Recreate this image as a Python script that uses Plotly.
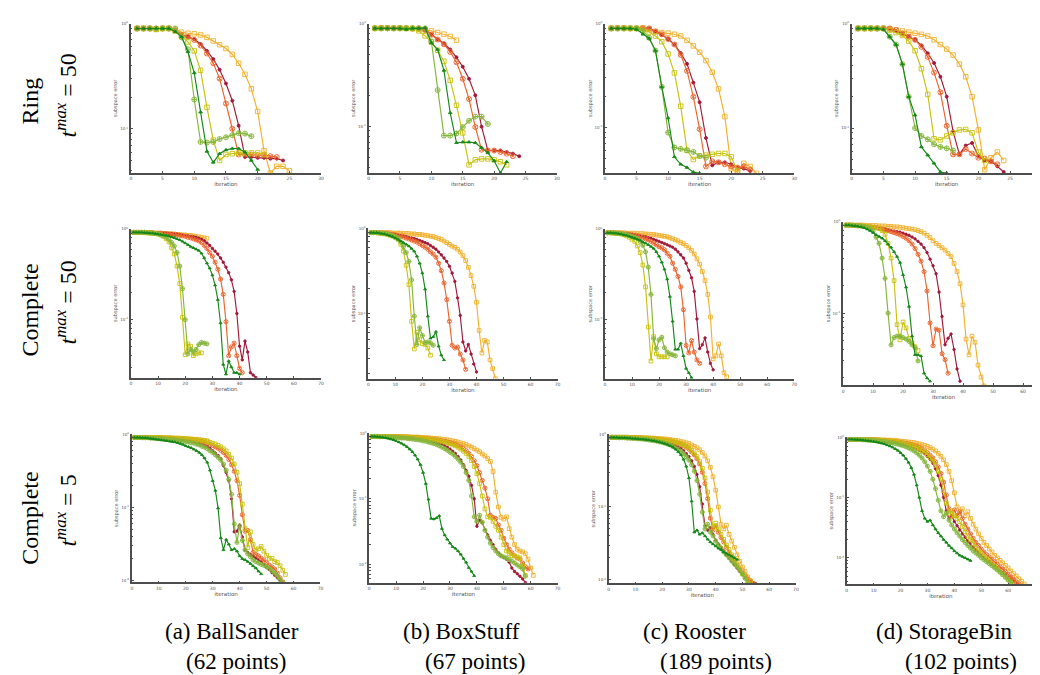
import plotly.graph_objects as go

# ------------------------------------------------------------------
# DATA  (subspace error per iteration, iterations start at 1)
# series: dr = dark red, or = orange-red, oy = orange-yellow,
#         yo = yellow-olive, lg = light green, dg = dark green
# ------------------------------------------------------------------
# Row 1 : Ring, t_max = 50
ring_a_oy = [0.90,0.90,0.90,0.89,0.90,0.90,0.88,0.83,0.81,0.80,0.78,0.74,0.685,0.63,0.58,0.51,0.42,0.33,0.24,0.146,0.062,0.038,0.044,0.044,0.040]
ring_a_dr = [0.90,0.90,0.90,0.90,0.90,0.90,0.87,0.78,0.75,0.71,0.64,0.55,0.46,0.365,0.27,0.185,0.107,0.054,0.054,0.053,0.053,0.052,0.052,0.050]
ring_a_or = [0.90,0.90,0.90,0.90,0.90,0.90,0.86,0.78,0.75,0.70,0.62,0.52,0.42,0.30,0.174,0.10,0.057,0.057,0.057,0.056,0.056,0.055,0.054]
ring_a_yo = [0.90,0.90,0.90,0.88,0.90,0.90,0.85,0.76,0.67,0.55,0.36,0.16,0.078,0.050,0.057,0.058,0.059,0.059,0.059,0.059,0.057]
ring_a_lg = [0.90,0.90,0.90,0.90,0.90,0.90,0.90,0.74,0.57,0.19,0.075,0.074,0.075,0.080,0.083,0.087,0.091,0.090,0.085]
ring_a_dg = [0.90,0.90,0.90,0.90,0.90,0.90,0.84,0.75,0.54,0.34,0.144,0.061,0.048,0.058,0.063,0.065,0.065,0.060,0.050,0.041]

ring_b_oy = [0.90,0.91,0.91,0.90,0.91,0.90,0.89,0.88,0.87,0.85,0.82,0.79,0.75,0.69]
ring_b_dr = [0.90,0.90,0.90,0.90,0.90,0.90,0.90,0.90,0.87,0.78,0.70,0.64,0.56,0.47,0.38,0.29,0.20,0.099,0.058,0.058,0.058,0.056,0.054,0.051]
ring_b_or = [0.90,0.90,0.90,0.90,0.90,0.90,0.90,0.90,0.87,0.78,0.70,0.63,0.53,0.42,0.29,0.184,0.098,0.059,0.058,0.058,0.056,0.054,0.051]
ring_b_yo = [0.90,0.90,0.90,0.90,0.90,0.90,0.90,0.85,0.76,0.66,0.55,0.43,0.28,0.16,0.086,0.042,0.047,0.048,0.048,0.047,0.045,0.042]
ring_b_lg = [0.90,0.90,0.90,0.90,0.90,0.90,0.90,0.90,0.90,0.67,0.225,0.081,0.081,0.085,0.098,0.113,0.124,0.124,0.105]
ring_b_dg = [0.90,0.90,0.90,0.90,0.90,0.88,0.90,0.90,0.91,0.65,0.56,0.35,0.135,0.069,0.070,0.070,0.069,0.062,0.055,0.046,0.035,0.045]

ring_c_oy = [0.90,0.91,0.91,0.90,0.90,0.91,0.88,0.84,0.82,0.81,0.79,0.76,0.69,0.61,0.53,0.44,0.34,0.235,0.127,0.040,0.037,0.045,0.042,0.036]
ring_c_dr = [0.90,0.90,0.90,0.90,0.90,0.90,0.90,0.84,0.78,0.71,0.63,0.52,0.41,0.27,0.175,0.079,0.043,0.046,0.046,0.044,0.041,0.040,0.038]
ring_c_or = [0.90,0.90,0.90,0.90,0.90,0.90,0.90,0.84,0.79,0.71,0.63,0.50,0.35,0.197,0.096,0.042,0.047,0.046,0.044,0.042,0.041,0.042,0.039]
ring_c_yo = [0.90,0.90,0.90,0.90,0.90,0.87,0.83,0.76,0.67,0.51,0.335,0.16,0.060,0.049,0.053,0.054,0.055,0.056,0.056,0.052,0.038]
ring_c_lg = [0.90,0.90,0.90,0.90,0.90,0.85,0.73,0.55,0.246,0.089,0.064,0.062,0.060,0.058,0.053,0.051]
ring_c_dg = [0.90,0.90,0.90,0.90,0.88,0.79,0.72,0.55,0.246,0.123,0.052,0.044,0.041,0.037,0.036]

ring_d_oy = [0.90,0.90,0.90,0.90,0.90,0.89,0.87,0.85,0.83,0.81,0.79,0.76,0.70,0.63,0.57,0.50,0.41,0.31,0.20,0.096,0.040,0.052,0.059,0.049]
ring_d_dr = [0.90,0.90,0.90,0.90,0.90,0.88,0.85,0.80,0.75,0.70,0.62,0.52,0.42,0.31,0.20,0.093,0.056,0.068,0.072,0.054,0.049,0.048,0.043,0.038]
ring_d_or = [0.90,0.90,0.90,0.90,0.90,0.90,0.87,0.80,0.75,0.70,0.60,0.48,0.34,0.22,0.105,0.056,0.056,0.063,0.057,0.052,0.051,0.048,0.045]
ring_d_yo = [0.90,0.90,0.90,0.90,0.90,0.86,0.82,0.77,0.68,0.55,0.37,0.21,0.079,0.077,0.084,0.090,0.096,0.097,0.090,0.059,0.049]
ring_d_lg = [0.90,0.90,0.90,0.90,0.90,0.75,0.63,0.41,0.20,0.10,0.084,0.078,0.070,0.066,0.064,0.061]
ring_d_dg = [0.90,0.90,0.90,0.90,0.88,0.75,0.63,0.41,0.20,0.133,0.066,0.055,0.046,0.038,0.037]

# Row 2 : Complete, t_max = 50
c50_a_oy = [0.92,0.92,0.92,0.92,0.91,0.91,0.91,0.91,0.90,0.90,0.90,0.89,0.89,0.89,0.88,0.88,0.87,0.87,0.86,0.86,0.85,0.85,0.84,0.83,0.82,0.81,0.80,0.79]
c50_a_dr = [0.92,0.92,0.92,0.92,0.92,0.92,0.91,0.91,0.91,0.91,0.90,0.90,0.90,0.89,0.89,0.88,0.88,0.87,0.86,0.85,0.84,0.83,0.82,0.81,0.79,0.77,0.74,0.70,0.66,0.61,0.57,0.53,0.48,0.43,0.38,0.33,0.275,0.205,0.117,0.051,0.036,0.058,0.044,0.026,0.0245,0.023]
c50_a_or = [0.92,0.92,0.92,0.92,0.92,0.91,0.91,0.91,0.90,0.90,0.90,0.89,0.89,0.88,0.88,0.87,0.86,0.85,0.84,0.83,0.81,0.80,0.78,0.76,0.74,0.71,0.66,0.61,0.55,0.50,0.43,0.36,0.28,0.19,0.095,0.040,0.050,0.055,0.040,0.029,0.026]
c50_a_yo = [0.92,0.92,0.92,0.92,0.91,0.91,0.90,0.90,0.89,0.88,0.86,0.83,0.78,0.72,0.62,0.53,0.39,0.25,0.106,0.041,0.054,0.051,0.040,0.042,0.043,0.043]
c50_a_lg = [0.92,0.92,0.92,0.92,0.92,0.91,0.91,0.90,0.89,0.88,0.86,0.84,0.81,0.77,0.71,0.65,0.55,0.39,0.22,0.10,0.042,0.047,0.044,0.047,0.053,0.056,0.055,0.054]
c50_a_dg = [0.92,0.92,0.92,0.92,0.91,0.91,0.90,0.90,0.89,0.88,0.87,0.86,0.85,0.84,0.82,0.80,0.78,0.76,0.73,0.70,0.67,0.64,0.62,0.60,0.58,0.54,0.48,0.42,0.37,0.31,0.24,0.166,0.092,0.032,0.025,0.035,0.030,0.026,0.026,0.025]

c50_b_oy = [0.89,0.89,0.89,0.89,0.89,0.89,0.89,0.89,0.88,0.88,0.88,0.88,0.87,0.87,0.87,0.86,0.86,0.85,0.85,0.84,0.83,0.82,0.81,0.80,0.78,0.76,0.74,0.71,0.68,0.65,0.62,0.60,0.57,0.53,0.48,0.42,0.35,0.28,0.21,0.137,0.064,0.035,0.049,0.047,0.029,0.023,0.0175]
c50_b_dr = [0.89,0.89,0.89,0.89,0.88,0.88,0.87,0.86,0.85,0.84,0.83,0.82,0.81,0.80,0.78,0.77,0.76,0.74,0.72,0.70,0.68,0.66,0.63,0.60,0.57,0.53,0.49,0.45,0.41,0.36,0.30,0.24,0.154,0.096,0.047,0.037,0.044,0.034,0.026,0.021]
c50_b_or = [0.89,0.89,0.89,0.89,0.88,0.88,0.87,0.86,0.85,0.84,0.82,0.81,0.79,0.77,0.75,0.73,0.71,0.69,0.66,0.63,0.60,0.57,0.53,0.50,0.46,0.39,0.32,0.23,0.147,0.082,0.043,0.040,0.041,0.034,0.029,0.0225]
c50_b_yo = [0.89,0.89,0.89,0.88,0.87,0.86,0.85,0.83,0.81,0.78,0.74,0.65,0.54,0.37,0.22,0.082,0.039,0.061,0.050,0.045,0.044,0.040,0.033]
c50_b_lg = [0.89,0.89,0.89,0.88,0.88,0.87,0.86,0.84,0.82,0.80,0.77,0.69,0.61,0.52,0.41,0.25,0.094,0.044,0.069,0.056,0.046,0.047,0.046,0.043]
c50_b_dg = [0.89,0.89,0.89,0.88,0.87,0.86,0.84,0.82,0.80,0.77,0.74,0.71,0.68,0.65,0.62,0.58,0.54,0.47,0.39,0.30,0.195,0.094,0.052,0.054,0.062,0.042,0.033,0.029]

c50_c_oy = [0.91,0.91,0.91,0.91,0.91,0.91,0.91,0.90,0.90,0.90,0.90,0.89,0.89,0.89,0.88,0.88,0.87,0.87,0.86,0.85,0.84,0.83,0.82,0.80,0.78,0.76,0.74,0.71,0.69,0.66,0.62,0.58,0.53,0.47,0.41,0.34,0.27,0.19,0.107,0.037,0.040,0.054,0.040,0.026,0.0235]
c50_c_dr = [0.91,0.91,0.91,0.91,0.90,0.90,0.89,0.89,0.88,0.87,0.86,0.85,0.84,0.83,0.82,0.80,0.79,0.77,0.75,0.73,0.71,0.69,0.67,0.65,0.63,0.60,0.56,0.52,0.48,0.42,0.35,0.29,0.205,0.102,0.048,0.053,0.063,0.044,0.033,0.028]
c50_c_or = [0.91,0.91,0.91,0.90,0.90,0.89,0.88,0.88,0.87,0.86,0.85,0.84,0.82,0.80,0.78,0.76,0.73,0.70,0.67,0.64,0.62,0.59,0.54,0.50,0.42,0.36,0.30,0.23,0.129,0.052,0.043,0.059,0.044,0.036,0.033]
c50_c_yo = [0.91,0.91,0.90,0.90,0.89,0.88,0.86,0.84,0.81,0.77,0.73,0.65,0.55,0.40,0.23,0.083,0.035,0.065,0.042,0.039,0.039,0.039,0.039]
c50_c_lg = [0.91,0.91,0.91,0.90,0.90,0.89,0.88,0.87,0.85,0.83,0.81,0.79,0.73,0.66,0.56,0.38,0.19,0.062,0.048,0.060,0.064,0.049,0.044,0.042,0.041,0.040]
c50_c_dg = [0.91,0.91,0.90,0.90,0.89,0.88,0.86,0.85,0.83,0.81,0.79,0.77,0.75,0.72,0.70,0.67,0.64,0.61,0.56,0.50,0.43,0.36,0.28,0.18,0.096,0.047,0.047,0.055,0.040,0.029,0.026,0.023]

c50_d_oy = [0.92,0.92,0.92,0.92,0.92,0.92,0.92,0.91,0.91,0.91,0.91,0.90,0.90,0.90,0.89,0.89,0.88,0.88,0.87,0.86,0.85,0.84,0.83,0.82,0.80,0.78,0.75,0.71,0.67,0.62,0.58,0.55,0.52,0.49,0.45,0.415,0.35,0.285,0.21,0.123,0.052,0.035,0.056,0.048,0.027,0.020,0.016]
c50_d_dr = [0.92,0.92,0.91,0.91,0.90,0.90,0.89,0.88,0.87,0.86,0.85,0.84,0.83,0.82,0.81,0.80,0.79,0.78,0.77,0.75,0.73,0.71,0.68,0.65,0.61,0.57,0.52,0.46,0.39,0.33,0.27,0.17,0.092,0.045,0.053,0.059,0.040,0.0245,0.018]
c50_d_or = [0.92,0.92,0.91,0.91,0.90,0.90,0.89,0.89,0.88,0.87,0.86,0.85,0.83,0.82,0.80,0.78,0.76,0.74,0.72,0.69,0.66,0.62,0.57,0.51,0.44,0.37,0.285,0.175,0.078,0.044,0.067,0.065,0.036,0.031,0.022]
c50_d_yo = [0.92,0.92,0.92,0.91,0.91,0.90,0.90,0.89,0.88,0.87,0.86,0.84,0.80,0.73,0.58,0.40,0.227,0.075,0.051,0.080,0.069,0.053,0.047,0.043,0.039]
c50_d_lg = [0.92,0.92,0.92,0.91,0.91,0.90,0.89,0.87,0.84,0.79,0.675,0.58,0.40,0.24,0.10,0.045,0.054,0.056,0.056,0.054,0.052,0.049,0.045,0.042,0.030]
c50_d_dg = [0.92,0.92,0.91,0.90,0.89,0.88,0.86,0.83,0.80,0.76,0.72,0.69,0.66,0.62,0.57,0.525,0.47,0.415,0.357,0.262,0.192,0.118,0.056,0.035,0.035,0.034,0.022,0.0195,0.018]

# Row 3 : Complete, t_max = 5
c5_a_oy = [0.90,0.90,0.90,0.90,0.90,0.90,0.90,0.90,0.90,0.90,0.90,0.89,0.89,0.89,0.89,0.88,0.88,0.88,0.87,0.87,0.86,0.86,0.85,0.85,0.84,0.83,0.82,0.81]
c5_a_dr = [0.90,0.90,0.90,0.90,0.90,0.90,0.89,0.89,0.89,0.89,0.88,0.88,0.87,0.87,0.86,0.86,0.85,0.84,0.83,0.82,0.81,0.80,0.78,0.77,0.75,0.73,0.71,0.68,0.64,0.59,0.55,0.51,0.46,0.37,0.30,0.23,0.13,0.046,0.047,0.057,0.039,0.026,0.024,0.0225,0.0213,0.020,0.019,0.018,0.0165,0.015,0.014,0.0127,0.0117,0.0108,0.0099,0.0091]
c5_a_or = [0.90,0.90,0.90,0.90,0.90,0.90,0.90,0.89,0.89,0.89,0.89,0.88,0.88,0.88,0.87,0.87,0.86,0.86,0.85,0.85,0.84,0.83,0.82,0.81,0.80,0.79,0.77,0.75,0.73,0.70,0.67,0.64,0.60,0.56,0.51,0.45,0.38,0.31,0.23,0.145,0.079,0.047,0.048,0.036,0.024,0.0225,0.0215,0.020,0.019,0.0175,0.016,0.0152,0.0142,0.0125,0.0108,0.0095]
c5_a_yo = [0.90,0.90,0.90,0.90,0.90,0.90,0.90,0.90,0.90,0.90,0.89,0.89,0.89,0.89,0.88,0.88,0.88,0.87,0.87,0.86,0.86,0.85,0.84,0.84,0.83,0.82,0.80,0.79,0.77,0.75,0.73,0.70,0.67,0.63,0.59,0.53,0.47,0.39,0.30,0.21,0.11,0.051,0.028,0.046,0.031,0.026,0.027,0.029,0.025,0.022,0.020,0.020,0.018,0.0175,0.0158,0.0137,0.0120]
c5_a_lg = [0.90,0.90,0.90,0.89,0.89,0.89,0.88,0.88,0.87,0.87,0.86,0.86,0.85,0.84,0.84,0.83,0.82,0.81,0.80,0.79,0.78,0.76,0.75,0.73,0.71,0.68,0.66,0.63,0.59,0.56,0.52,0.48,0.44,0.39,0.32,0.24,0.15,0.059,0.033,0.055,0.035,0.026,0.023,0.021,0.019,0.018,0.0172,0.0165,0.016,0.0152,0.0145,0.0135,0.0125,0.0113,0.0102,0.0092]
c5_a_dg = [0.90,0.90,0.90,0.89,0.89,0.88,0.87,0.86,0.85,0.84,0.83,0.82,0.81,0.80,0.79,0.78,0.76,0.74,0.72,0.69,0.67,0.65,0.62,0.59,0.56,0.52,0.47,0.41,0.32,0.23,0.169,0.097,0.038,0.026,0.036,0.031,0.026,0.027,0.025,0.0215,0.0197,0.019,0.018,0.0169,0.0157,0.0147,0.0133,0.0122]

c5_b_oy = [0.89,0.89,0.89,0.89,0.89,0.89,0.89,0.89,0.89,0.89,0.88,0.88,0.88,0.88,0.88,0.87,0.87,0.87,0.86,0.86,0.85,0.85,0.84,0.83,0.83,0.82,0.81,0.80,0.79,0.78,0.76,0.75,0.73,0.71,0.69,0.67,0.64,0.61,0.58,0.55,0.52,0.48,0.45,0.41,0.37,0.26,0.126,0.075,0.052,0.049,0.053,0.035,0.026,0.020,0.017,0.016,0.0155,0.0145,0.012,0.0088,0.0068]
c5_b_dr = [0.89,0.89,0.89,0.89,0.89,0.88,0.88,0.88,0.88,0.87,0.87,0.86,0.86,0.85,0.85,0.84,0.83,0.82,0.81,0.80,0.79,0.77,0.76,0.74,0.72,0.70,0.67,0.64,0.61,0.57,0.53,0.49,0.44,0.39,0.33,0.27,0.22,0.16,0.10,0.038,0.047,0.043,0.034,0.028,0.023,0.020,0.017,0.015,0.0135,0.0127,0.012,0.0108,0.0088,0.0078,0.0072,0.0066,0.0060,0.0053]
c5_b_or = [0.89,0.89,0.89,0.89,0.89,0.89,0.89,0.88,0.88,0.88,0.88,0.87,0.87,0.87,0.86,0.86,0.85,0.85,0.84,0.83,0.83,0.82,0.81,0.80,0.79,0.78,0.76,0.75,0.73,0.71,0.69,0.67,0.64,0.61,0.58,0.54,0.49,0.44,0.38,0.32,0.25,0.19,0.145,0.10,0.056,0.052,0.050,0.040,0.033,0.025,0.020,0.017,0.015,0.0135,0.0125,0.012,0.0105,0.0092,0.0085]
c5_b_yo = [0.89,0.89,0.89,0.89,0.89,0.89,0.89,0.89,0.88,0.88,0.88,0.88,0.87,0.87,0.86,0.86,0.85,0.85,0.84,0.83,0.82,0.81,0.80,0.79,0.78,0.76,0.75,0.73,0.71,0.69,0.66,0.64,0.61,0.57,0.53,0.49,0.44,0.38,0.31,0.24,0.17,0.11,0.070,0.053,0.052,0.045,0.038,0.033,0.026,0.020,0.016,0.0145,0.0135,0.0135,0.013,0.0125,0.0095,0.0068]
c5_b_lg = [0.89,0.89,0.89,0.88,0.88,0.88,0.87,0.87,0.86,0.86,0.85,0.84,0.84,0.83,0.82,0.81,0.80,0.79,0.78,0.76,0.75,0.73,0.71,0.69,0.67,0.64,0.61,0.58,0.55,0.51,0.48,0.44,0.40,0.36,0.31,0.25,0.19,0.11,0.053,0.045,0.056,0.044,0.033,0.026,0.021,0.018,0.016,0.0145,0.0135,0.013,0.0125,0.0118,0.0112,0.0105,0.0098,0.0092,0.0085,0.0066]
c5_b_dg = [0.89,0.89,0.88,0.87,0.86,0.85,0.83,0.81,0.79,0.76,0.73,0.70,0.66,0.62,0.57,0.52,0.46,0.40,0.33,0.25,0.17,0.098,0.050,0.049,0.051,0.055,0.035,0.028,0.024,0.021,0.0185,0.0175,0.016,0.0142,0.0123,0.0107,0.0089,0.0078,0.0067]

c5_c_oy = [0.91,0.91,0.91,0.91,0.91,0.91,0.91,0.90,0.90,0.90,0.90,0.90,0.89,0.89,0.89,0.88,0.88,0.87,0.87,0.86,0.86,0.85,0.84,0.83,0.82,0.81,0.79,0.78,0.76,0.74,0.71,0.68,0.65,0.61,0.56,0.50,0.43,0.35,0.26,0.17,0.10,0.058,0.050,0.056,0.042,0.034,0.028,0.022,0.018,0.015,0.013,0.011,0.0098,0.0090]
c5_c_dr = [0.90,0.90,0.90,0.90,0.89,0.89,0.89,0.89,0.88,0.88,0.87,0.87,0.86,0.86,0.85,0.84,0.83,0.82,0.81,0.79,0.78,0.76,0.74,0.72,0.69,0.66,0.63,0.59,0.54,0.49,0.43,0.36,0.28,0.19,0.11,0.055,0.048,0.052,0.042,0.035,0.031,0.028,0.025,0.022,0.020,0.018,0.016,0.0145,0.013,0.0118,0.0108,0.0100,0.0094,0.0090,0.0088]
c5_c_or = [0.90,0.90,0.90,0.90,0.90,0.90,0.89,0.89,0.89,0.89,0.88,0.88,0.88,0.87,0.87,0.86,0.86,0.85,0.84,0.83,0.82,0.81,0.80,0.78,0.76,0.74,0.72,0.69,0.66,0.62,0.57,0.52,0.46,0.39,0.30,0.21,0.13,0.07,0.048,0.055,0.045,0.038,0.033,0.028,0.024,0.021,0.018,0.016,0.014,0.0125,0.0112,0.0102,0.0095,0.0089]
c5_c_yo = [0.90,0.90,0.90,0.90,0.90,0.90,0.90,0.89,0.89,0.89,0.89,0.88,0.88,0.88,0.87,0.87,0.86,0.86,0.85,0.84,0.83,0.82,0.81,0.80,0.78,0.76,0.74,0.71,0.68,0.64,0.60,0.55,0.49,0.42,0.34,0.25,0.16,0.09,0.052,0.060,0.050,0.042,0.036,0.030,0.026,0.022,0.019,0.016,0.014,0.012,0.0108,0.0098,0.0090]
c5_c_lg = [0.90,0.90,0.90,0.89,0.89,0.89,0.88,0.88,0.87,0.87,0.86,0.86,0.85,0.84,0.83,0.82,0.81,0.80,0.78,0.77,0.75,0.73,0.71,0.68,0.65,0.62,0.58,0.54,0.49,0.44,0.38,0.31,0.23,0.15,0.085,0.050,0.058,0.045,0.040,0.034,0.030,0.027,0.024,0.022,0.020,0.018,0.0165,0.015,0.0135,0.012,0.0105,0.0092]
c5_c_dg = [0.90,0.90,0.90,0.89,0.89,0.89,0.88,0.88,0.87,0.87,0.86,0.85,0.85,0.84,0.83,0.82,0.81,0.79,0.78,0.76,0.74,0.72,0.69,0.66,0.62,0.57,0.52,0.45,0.36,0.25,0.12,0.045,0.048,0.042,0.044,0.040,0.036,0.033,0.031,0.029,0.027,0.026,0.024,0.023,0.022,0.021,0.020,0.019]

c5_d_oy = [0.92,0.92,0.92,0.92,0.92,0.92,0.92,0.91,0.91,0.91,0.91,0.90,0.90,0.90,0.89,0.89,0.88,0.88,0.87,0.86,0.85,0.84,0.83,0.82,0.81,0.79,0.77,0.75,0.73,0.70,0.67,0.63,0.59,0.54,0.48,0.42,0.35,0.27,0.19,0.12,0.070,0.055,0.065,0.050,0.058,0.045,0.036,0.030,0.025,0.021,0.018,0.016,0.014,0.0125,0.011,0.010,0.0091,0.0083,0.0075,0.0068,0.0061,0.0055,0.0050,0.0045,0.0041,0.0037]
c5_d_dr = [0.92,0.92,0.92,0.92,0.91,0.91,0.91,0.90,0.90,0.89,0.89,0.88,0.87,0.86,0.85,0.84,0.83,0.82,0.80,0.79,0.77,0.75,0.73,0.70,0.67,0.64,0.61,0.57,0.53,0.48,0.43,0.37,0.30,0.23,0.16,0.10,0.060,0.045,0.050,0.040,0.034,0.029,0.025,0.022,0.019,0.017,0.015,0.0135,0.012,0.011,0.010,0.0094,0.0087,0.0080,0.0074,0.0068,0.0062,0.0057,0.0052,0.0048,0.0044,0.0041,0.0038]
c5_d_or = [0.92,0.92,0.92,0.92,0.92,0.91,0.91,0.91,0.90,0.90,0.89,0.89,0.88,0.88,0.87,0.86,0.85,0.84,0.83,0.82,0.80,0.79,0.77,0.75,0.72,0.70,0.67,0.63,0.59,0.55,0.50,0.45,0.39,0.32,0.25,0.18,0.11,0.065,0.048,0.062,0.050,0.058,0.045,0.036,0.030,0.025,0.021,0.018,0.016,0.014,0.0125,0.0113,0.0103,0.0094,0.0086,0.0078,0.0071,0.0065,0.0059,0.0053,0.0048,0.0044,0.0040,0.0037]
c5_d_yo = [0.92,0.92,0.92,0.92,0.91,0.91,0.91,0.90,0.90,0.90,0.89,0.89,0.88,0.87,0.87,0.86,0.85,0.84,0.82,0.81,0.79,0.77,0.75,0.73,0.70,0.67,0.64,0.60,0.56,0.51,0.46,0.40,0.34,0.27,0.20,0.13,0.08,0.055,0.060,0.050,0.045,0.040,0.033,0.027,0.023,0.020,0.017,0.015,0.013,0.0118,0.0107,0.0097,0.0088,0.0080,0.0072,0.0065,0.0059,0.0053,0.0048,0.0044,0.0040,0.0037]
c5_d_lg = [0.92,0.92,0.92,0.91,0.91,0.90,0.90,0.89,0.88,0.88,0.87,0.86,0.85,0.84,0.83,0.81,0.80,0.78,0.76,0.74,0.72,0.69,0.66,0.63,0.59,0.55,0.50,0.45,0.39,0.33,0.27,0.20,0.14,0.09,0.060,0.048,0.055,0.042,0.035,0.030,0.026,0.023,0.020,0.018,0.016,0.0145,0.013,0.012,0.011,0.010,0.0093,0.0086,0.0080,0.0074,0.0068,0.0063,0.0058,0.0053,0.0048,0.0043,0.0039]
c5_d_dg = [0.92,0.92,0.91,0.91,0.90,0.89,0.88,0.87,0.86,0.85,0.83,0.81,0.79,0.77,0.74,0.71,0.68,0.64,0.60,0.55,0.50,0.44,0.38,0.31,0.24,0.16,0.10,0.060,0.045,0.040,0.042,0.035,0.030,0.026,0.023,0.020,0.018,0.016,0.0145,0.013,0.012,0.011,0.0105,0.010,0.0095,0.009]

# text
row_titles = ["Ring", "Complete", "Complete"]
row_tmax = ["50", "50", "5"]
captions = ["(a) BallSander", "(b) BoxStuff", "(c) Rooster", "(d) StorageBin"]
point_counts = ["(62 points)", "(67 points)", "(189 points)", "(102 points)"]
x_ticks_ring = [0, 5, 10, 15, 20, 25, 30]
x_ticks_complete = [0, 10, 20, 30, 40, 50, 60, 70]
y_tickvals = [1, 0.1, 0.01]
y_ticktext = ["10<sup>0</sup>", "10<sup>-1</sup>", "10<sup>-2</sup>"]

# ------------------------------------------------------------------
# panels table (built from the lists above)
# ------------------------------------------------------------------
panels = [
    [ring_a_oy, ring_a_dr, ring_a_or, ring_a_yo, ring_a_lg, ring_a_dg],
    [ring_b_oy, ring_b_dr, ring_b_or, ring_b_yo, ring_b_lg, ring_b_dg],
    [ring_c_oy, ring_c_dr, ring_c_or, ring_c_yo, ring_c_lg, ring_c_dg],
    [ring_d_oy, ring_d_dr, ring_d_or, ring_d_yo, ring_d_lg, ring_d_dg],
    [c50_a_oy, c50_a_dr, c50_a_or, c50_a_yo, c50_a_lg, c50_a_dg],
    [c50_b_oy, c50_b_dr, c50_b_or, c50_b_yo, c50_b_lg, c50_b_dg],
    [c50_c_oy, c50_c_dr, c50_c_or, c50_c_yo, c50_c_lg, c50_c_dg],
    [c50_d_oy, c50_d_dr, c50_d_or, c50_d_yo, c50_d_lg, c50_d_dg],
    [c5_a_oy, c5_a_dr, c5_a_or, c5_a_yo, c5_a_lg, c5_a_dg],
    [c5_b_oy, c5_b_dr, c5_b_or, c5_b_yo, c5_b_lg, c5_b_dg],
    [c5_c_oy, c5_c_dr, c5_c_or, c5_c_yo, c5_c_lg, c5_c_dg],
    [c5_d_oy, c5_d_dr, c5_d_or, c5_d_yo, c5_d_lg, c5_d_dg],
]

styles = [
    dict(color="#f2b02b", symbol="square-open", size=4.5),      # orange-yellow
    dict(color="#a3193a", symbol="circle", size=3),             # dark red
    dict(color="#ea642c", symbol="circle-x-open", size=5),      # orange-red
    dict(color="#c7c20c", symbol="square-open", size=4.5),      # yellow-olive
    dict(color="#85b63b", symbol="circle-cross-open", size=5),  # light green
    dict(color="#16881a", symbol="triangle-up", size=3.2),      # dark green
]

# panel geometry in pixels: left, right, top(10^0), bottom, log-bottom, xmax
W, H = 1040, 675
geom = [
    (122.3, 313.3, 12.7, 162.7, -1.42, 30),
    (361.0, 550.0, 12.7, 162.7, -1.456, 30),
    (598.3, 788.3, 12.7, 162.7, -1.44, 30),
    (846.0, 1036.7, 12.7, 162.7, -1.43, 30),
    (122.3, 313.3, 219.0, 368.3, -1.64, 70),
    (360.7, 550.7, 218.3, 369.3, -1.756, 70),
    (598.3, 788.3, 219.0, 369.3, -1.65, 70),
    (837.3, 1039.0, 211.7, 376.0, -1.79, 67),
    (123.3, 312.7, 425.0, 574.0, -2.03, 70),
    (361.7, 550.7, 424.0, 574.3, -2.28, 70),
    (602.0, 790.0, 425.0, 575.0, -2.05, 70),
    (841.0, 1030.0, 428.0, 576.0, -2.44, 70),
]

fig = go.Figure()
layout = {}
for k, (series_list, g) in enumerate(zip(panels, geom)):
    n = k + 1
    xa = "x" if n == 1 else f"x{n}"
    ya = "y" if n == 1 else f"y{n}"
    scale = 1.0 if k < 4 else 0.82
    for vals, st in zip(series_list, styles):
        fig.add_trace(go.Scatter(
            x=list(range(1, len(vals) + 1)), y=vals, xaxis=xa, yaxis=ya,
            mode="lines+markers", showlegend=False,
            line=dict(color=st["color"], width=1.15),
            marker=dict(symbol=st["symbol"], size=st["size"] * scale, color=st["color"],
                        line=dict(color=st["color"], width=0.9)),
        ))
    left, right, top, bottom, lb, xmax = g
    xticks = x_ticks_ring if xmax == 30 else [t for t in x_ticks_complete if t <= xmax]
    layout["xaxis" if n == 1 else f"xaxis{n}"] = dict(
        domain=[left / W, right / W], range=[0, xmax], anchor=ya,
        showline=True, linecolor="#4d4d4d", linewidth=1.8, mirror=False,
        showgrid=False, zeroline=False, ticks="inside", ticklen=2, tickcolor="#4d4d4d",
        tickmode="array", tickvals=xticks, tickfont=dict(size=4.5, color="#555", family="DejaVu Sans"),
        title=dict(text="iteration", font=dict(size=5.5, color="#555", family="DejaVu Sans"), standoff=0),
    )
    layout["yaxis" if n == 1 else f"yaxis{n}"] = dict(
        domain=[1 - bottom / H, 1 - top / H], type="log", range=[lb, 0], anchor=xa,
        showline=True, linecolor="#4d4d4d", linewidth=1.8, mirror=False,
        showgrid=False, zeroline=False, ticks="inside", ticklen=2, tickcolor="#4d4d4d",
        tickmode="array", tickvals=y_tickvals, ticktext=y_ticktext,
        tickfont=dict(size=4, color="#555", family="DejaVu Sans"),
        minor=dict(ticks="inside", ticklen=1.5, tickcolor="#4d4d4d", dtick="D1", showgrid=False),
        title=dict(text="subspace error", font=dict(size=5, color="#555", family="DejaVu Sans"), standoff=2),
    )

serif = "Liberation Serif"
ann = []
# rotated row labels: (x of title, y of title, x of t-max label, y of t-max label)
row_pos = [(21, 90, 57, 85), (21, 300, 57, 293), (21, 509, 57, 502)]
for (title, tmax), (x1, y1, x2, y2) in zip(zip(row_titles, row_tmax), row_pos):
    ann.append(dict(text=title, x=x1 / W, y=1 - y1 / H, xref="paper", yref="paper",
                    showarrow=False, textangle=-90, xanchor="center", yanchor="middle",
                    font=dict(size=24, family=serif, color="black")))
    ann.append(dict(text=f"<i>t</i><sup><i>max</i></sup> = {tmax}", x=x2 / W, y=1 - y2 / H,
                    xref="paper", yref="paper", showarrow=False, textangle=-90,
                    xanchor="center", yanchor="middle",
                    font=dict(size=24, family=serif, color="black")))
cap_x = [(224, 228), (454, 468), (688, 710), (939, 956)]
for cap, pts, (x1, x2) in zip(captions, point_counts, cap_x):
    ann.append(dict(text=cap, x=x1 / W, y=1 - 623 / H, xref="paper", yref="paper",
                    showarrow=False, xanchor="center", yanchor="middle",
                    font=dict(size=23, family=serif, color="black")))
    ann.append(dict(text=pts, x=x2 / W, y=1 - 653 / H, xref="paper", yref="paper",
                    showarrow=False, xanchor="center", yanchor="middle",
                    font=dict(size=23, family=serif, color="black")))

fig.update_layout(
    width=W, height=H, margin=dict(l=0, r=0, t=0, b=0),
    paper_bgcolor="white", plot_bgcolor="white",
    annotations=ann, **layout,
)
fig.write_html("out.html")
